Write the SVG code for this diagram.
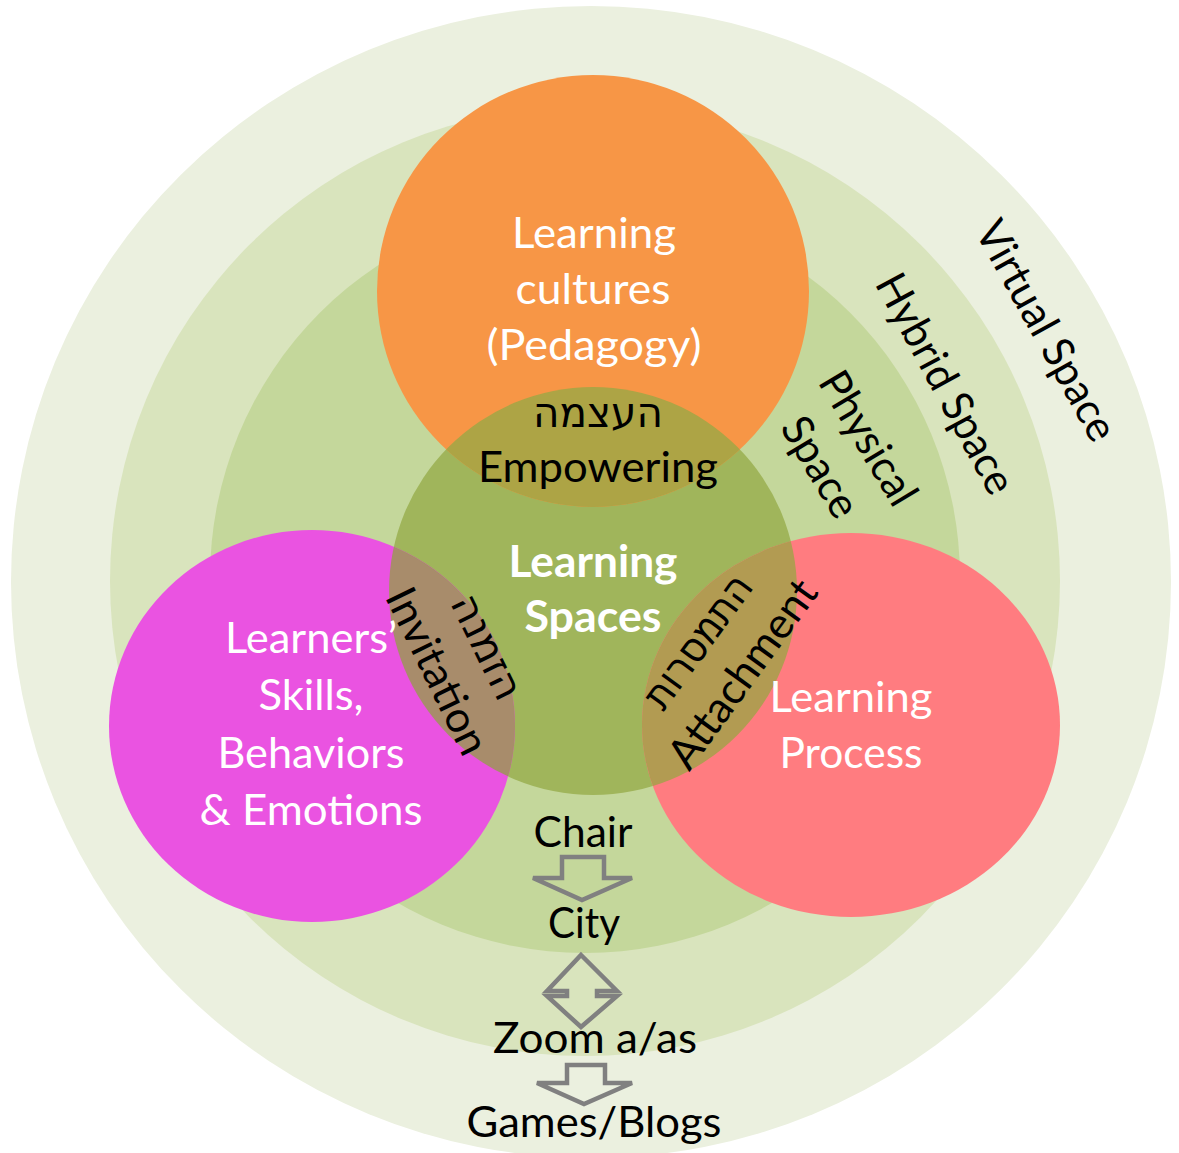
<svg xmlns="http://www.w3.org/2000/svg" width="1179" height="1153" viewBox="0 0 1179 1153">
<style>
.t{font-family:Lato,"Liberation Sans","DejaVu Sans",sans-serif;font-size:43px;text-anchor:middle}
.w{fill:#ffffff}
.k{fill:#000000}
.b{font-weight:bold}
.he{font-family:"DejaVu Sans","Liberation Sans",sans-serif;font-size:42px;text-anchor:middle;fill:#000000}
.arr{fill:none;stroke:#808080;stroke-width:4.5;stroke-linejoin:miter}
</style>
<defs>
<clipPath id="cg"><circle cx="593" cy="591" r="204"/></clipPath>
</defs>
<rect width="1179" height="1153" fill="#ffffff"/>
<g id="virtual-space">
<ellipse cx="591" cy="582" rx="580" ry="576" fill="#ebf0df"/>
<text class="t k" transform="translate(1044,332) rotate(61)" x="0" y="12" textLength="245" lengthAdjust="spacingAndGlyphs">Virtual Space</text>
</g>
<g id="hybrid-space">
<circle cx="585" cy="581" r="475" fill="#d9e4bd"/>
<text class="t k" transform="translate(943,385) rotate(61.5)" x="0" y="12" textLength="244" lengthAdjust="spacingAndGlyphs">Hybrid Space</text>
</g>
<g id="physical-space">
<circle cx="585" cy="578" r="375" fill="#c4d79b"/>
<g transform="translate(842,454) rotate(59)">
<text class="t k" x="0" y="-16" textLength="149" lengthAdjust="spacingAndGlyphs">Physical</text>
<text class="t k" x="0" y="40" textLength="110" lengthAdjust="spacingAndGlyphs">Space</text>
</g>
</g>
<g id="learning-spaces">
<circle cx="593" cy="591" r="204" fill="#a0b55b"/>
</g>
<g id="learning-cultures">
<circle cx="593" cy="291" r="216" fill="#f79646"/>
<circle cx="593" cy="291" r="216" fill="#ada445" clip-path="url(#cg)"/>
<text class="t w" x="594" y="248" textLength="164" lengthAdjust="spacingAndGlyphs">Learning</text>
<text class="t w" x="593" y="304" textLength="155" lengthAdjust="spacingAndGlyphs">cultures</text>
<text class="t w" x="594" y="360" textLength="215" lengthAdjust="spacingAndGlyphs">(Pedagogy)</text>
</g>
<g id="learners">
<ellipse cx="312" cy="726" rx="203" ry="196" fill="#ea53e1"/>
<ellipse cx="312" cy="726" rx="203" ry="196" fill="#a88c6b" clip-path="url(#cg)"/>
<text class="t w" x="311" y="653" textLength="172" lengthAdjust="spacingAndGlyphs">Learners’</text>
<text class="t w" x="311" y="710" textLength="105" lengthAdjust="spacingAndGlyphs">Skills,</text>
<text class="t w" x="311" y="768" textLength="187" lengthAdjust="spacingAndGlyphs">Behaviors</text>
<text class="t w" x="311" y="825" textLength="223" lengthAdjust="spacingAndGlyphs">&amp; Emotions</text>
</g>
<g id="learning-process">
<ellipse cx="851" cy="725" rx="209" ry="192" fill="#ff7c80"/>
<ellipse cx="851" cy="725" rx="209" ry="192" fill="#b29b52" clip-path="url(#cg)"/>
<text class="t w" x="851" y="712" textLength="163" lengthAdjust="spacingAndGlyphs">Learning</text>
<text class="t w" x="851" y="768" textLength="143" lengthAdjust="spacingAndGlyphs">Process</text>
</g>
<g id="learning-spaces-label">
<text class="t w b" x="593" y="577" textLength="169" lengthAdjust="spacingAndGlyphs">Learning</text>
<text class="t w b" x="593" y="632" textLength="137" lengthAdjust="spacingAndGlyphs">Spaces</text>
</g>
<g id="empowering">
<text class="he" x="598" y="427" textLength="130" lengthAdjust="spacingAndGlyphs">העצמה</text>
<text class="t k" x="598" y="482" textLength="240" lengthAdjust="spacingAndGlyphs">Empowering</text>
</g>
<g id="invitation" transform="translate(460,660) rotate(64)">
<text class="he" x="0" y="-16" textLength="112" lengthAdjust="spacingAndGlyphs">הזמנה</text>
<text class="t k" x="0" y="40" textLength="180" lengthAdjust="spacingAndGlyphs">Invitation</text>
</g>
<g id="attachment" transform="translate(722,659) rotate(-54)">
<text class="he" x="0" y="-16" textLength="155" lengthAdjust="spacingAndGlyphs">התמסרות</text>
<text class="t k" x="0" y="40" textLength="222" lengthAdjust="spacingAndGlyphs">Attachment</text>
</g>
<g id="scale-labels">
<text class="t k" x="583" y="847" textLength="99" lengthAdjust="spacingAndGlyphs">Chair</text>
<text class="t k" x="584" y="938" textLength="72" lengthAdjust="spacingAndGlyphs">City</text>
<text class="t k" x="595" y="1053" textLength="204" lengthAdjust="spacingAndGlyphs">Zoom a/as</text>
<text class="t k" x="594" y="1137" textLength="255" lengthAdjust="spacingAndGlyphs">Games/Blogs</text>
</g>
<g id="connectors">
<polygon class="arr" points="562,857 604,857 604,878 632,878 582,900 533,878 562,878"/>
<polygon class="arr" points="581,955 617,991 597,991 597,996 617,996 581,1027 547,996 567,996 567,991 547,991"/>
<polygon class="arr" points="567,1065 605,1065 605,1083 632,1083 584,1104 537,1083 567,1083"/>
</g>
</svg>
